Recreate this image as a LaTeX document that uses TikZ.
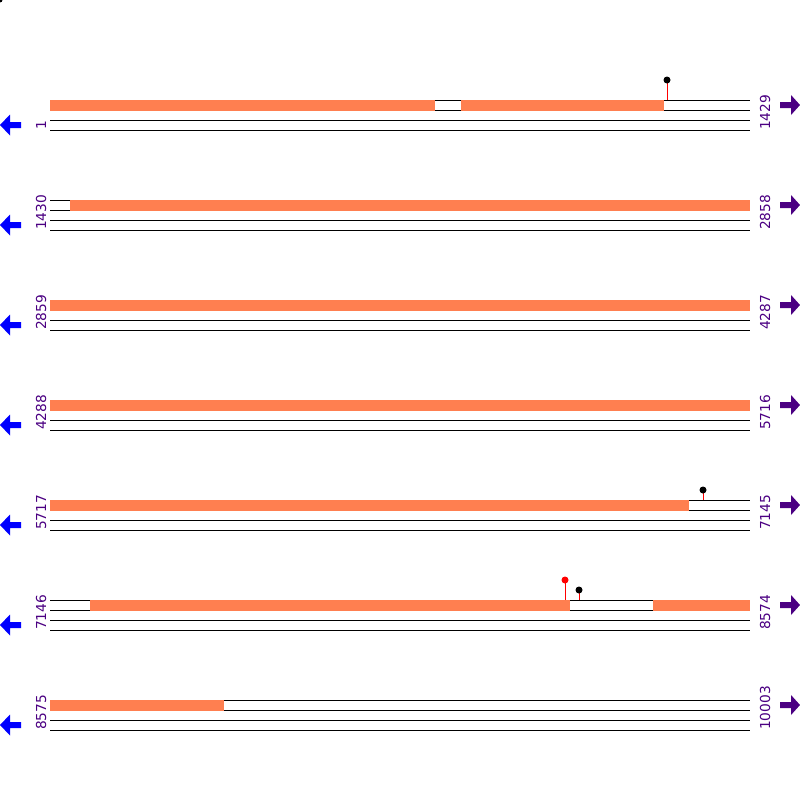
\documentclass[tikz,border=0pt]{standalone}
\usepackage{fontspec}
\setmainfont{DejaVu Sans}
\usepackage{tikz}
\definecolor{featOr}{HTML}{FF7F50}
\definecolor{revB}{HTML}{0000FF}
\definecolor{numP}{HTML}{4B0082}
\tikzset{
  strand/.style={black, line width=1pt},
  feat/.style={fill=featOr, draw=none},
  poslab/.style={font=\fontsize{13.75}{14}\selectfont, text=numP, rotate=90,
                 anchor=base west, inner sep=0pt},
  stem/.style={red, line width=1pt},
  revarrow/.pic={\fill[revB] (0,0) -- (10,-10.5) -- (10,-3) -- (21,-3)
                   -- (21,3) -- (10,3) -- (10,10.5) -- cycle;},
  fwdarrow/.pic={\fill[numP] (20,0) -- (11,-10) -- (11,-3) -- (0,-3)
                   -- (0,3) -- (11,3) -- (11,10) -- cycle;},
}

\begin{document}
\begin{tikzpicture}[x=1pt, y=-1pt]
  \useasboundingbox (0,0) rectangle (800,800);
  \fill (0,0) circle (2.5);
  % strands, positions and direction arrows
  \foreach \r/\a/\b in {1/1/1429, 2/1430/2858, 3/2859/4287, 4/4288/5716,
                        5/5717/7145, 6/7146/8574, 7/8575/10003}{
    \pgfmathsetmacro\y{100*\r}
    \foreach \d in {0,10,20,30}
      \draw[strand] (50,\y+\d) -- (750,\y+\d);
    \node[poslab] (lo\r) at (46,\y+30) {\a};
    \node[poslab] (hi\r) at (770,\y+30) {\b};
    \pic (rev\r) at (0,\y+25) {revarrow};
    \pic (fwd\r) at (780,\y+5) {fwdarrow};
  }
  % features
  \fill[feat] (50,99.5) rectangle (435,110.5);
  \fill[feat] (461,99.5) rectangle (664,110.5);
  \fill[feat] (70,199.5) rectangle (750,210.5);
  \fill[feat] (50,299.5) rectangle (750,310.5);
  \fill[feat] (50,399.5) rectangle (750,410.5);
  \fill[feat] (50,499.5) rectangle (689,510.5);
  \fill[feat] (90,599.5) rectangle (570,610.5);
  \fill[feat] (653,599.5) rectangle (750,610.5);
  \fill[feat] (50,699.5) rectangle (224,710.5);
  % sites
  \draw[stem] (667,100) -- (667,80);
  \fill (667,80) circle (3.5);
  \draw[stem] (703,500) -- (703,490);
  \fill (703,490) circle (3.5);
  \draw[stem] (565,600) -- (565,580);
  \fill[red] (565,580) circle (3.5);
  \draw[stem] (579,600) -- (579,590);
  \fill (579,590) circle (3.5);
\end{tikzpicture}
\end{document}
